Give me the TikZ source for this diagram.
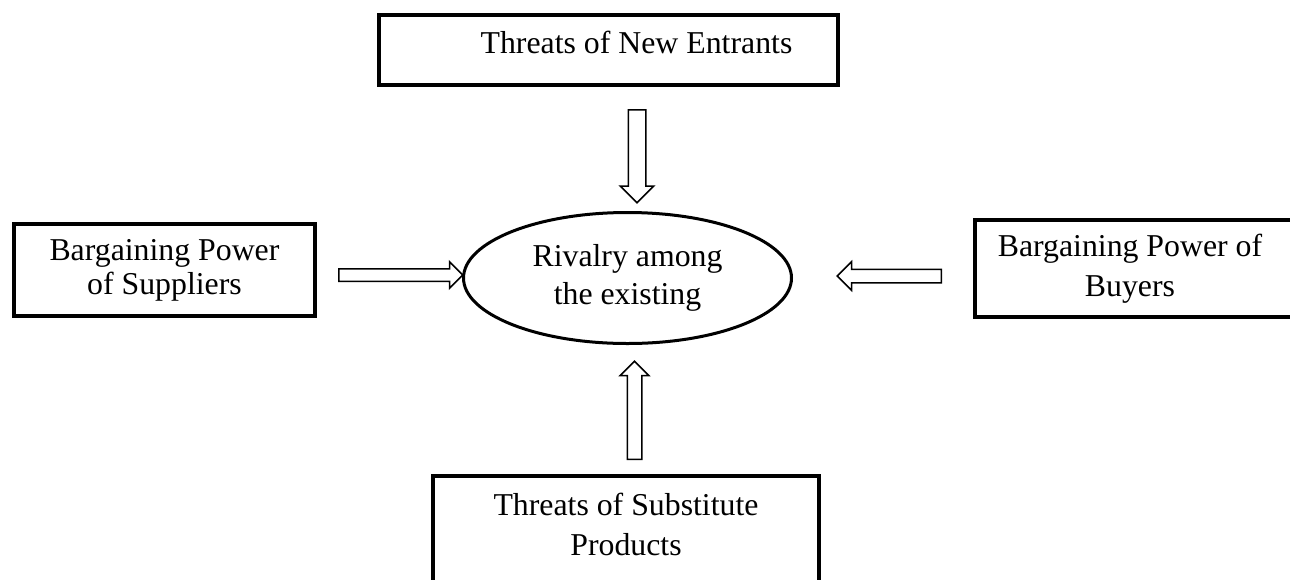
\documentclass[tikz,border=0pt]{standalone}
\usepackage{fontspec}
\setmainfont{Liberation Serif}
\usetikzlibrary{shapes.geometric,shapes.arrows}

\begin{document}
\begin{tikzpicture}[x=0.5pt,y=-0.5pt]
\tikzset{
  forcebox/.style={rectangle,draw=black,line width=2pt,align=center,inner sep=0pt},
  rivalnode/.style={ellipse,draw=black,line width=1.5pt,align=center,inner sep=0pt,minimum width=164pt,minimum height=65.5pt},
  forcearrow/.style={single arrow,draw=black,line width=0.75pt,fill=white,inner xsep=0pt,inner ysep=3pt,single arrow head extend=3.75pt,single arrow tip angle=90,minimum width=0pt,anchor=tail}
}
\clip (0,0) rectangle (1290,579);
\node[rivalnode,font=\fontsize{15.9}{19}\selectfont] (n_rival) at (627.5,278) {Rivalry among\\the existing};
\node[forcebox,minimum width=229.5pt,minimum height=35pt,font=\fontsize{15.9}{18}\selectfont] (n_new) at (608.5,50) {\hspace*{28pt}Threats of New Entrants\rule[-8pt]{0pt}{8pt}};
\node[forcebox,minimum width=150.5pt,minimum height=46pt,font=\fontsize{15.9}{17}\selectfont] (n_sup) at (164.5,270) {Bargaining Power\\of Suppliers};
\node[forcebox,minimum width=162.5pt,minimum height=48.5pt,font=\fontsize{15.9}{20}\selectfont] (n_buy) at (1137.5,268.5) {Bargaining Power of\hspace*{7.5pt}\\Buyers\hspace*{7.5pt}};
\node[forcebox,minimum width=193pt,minimum height=67pt,font=\fontsize{15.9}{20}\selectfont] (n_sub) at (626,543) {Threats of Substitute\\Products\rule[-19pt]{0pt}{19pt}};
% block arrows towards the rivalry
\node[forcearrow,rotate=-90,minimum height=46.5pt,inner ysep=4pt,single arrow head extend=4pt] (a_new) at (637,109) {};
\node[forcearrow,rotate=90,minimum height=49pt,inner ysep=3.25pt,single arrow head extend=3.5pt] (a_sub) at (634.5,460) {};
\node[forcearrow,minimum height=62pt,inner ysep=2.75pt,single arrow head extend=3.5pt] (a_sup) at (338,275) {};
\node[forcearrow,rotate=180,minimum height=52pt] (a_buy) at (942,276) {};
\end{tikzpicture}
\end{document}
